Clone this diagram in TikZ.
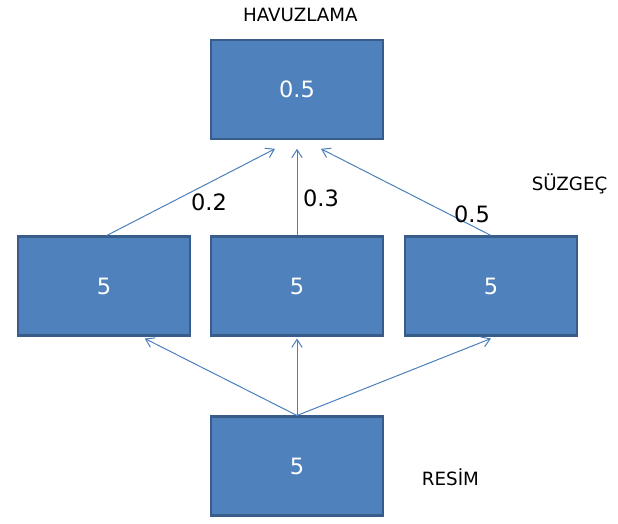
\documentclass[tikz,border=0pt]{standalone}
\usepackage{fontspec}
\setmainfont{DejaVu Sans}
\usepackage{tikz}
\usetikzlibrary{arrows.meta, positioning}
\definecolor{myblue}{RGB}{79,129,189}
\definecolor{mydarkblue}{RGB}{56,93,138}
\definecolor{mylink}{RGB}{74,126,187}
\tikzset{
  cell/.style={rectangle, draw=mydarkblue, fill=myblue,
    minimum width=4.3cm, minimum height=2.47cm,
    font=\fontsize{16}{18}\selectfont, text=white, line width=1.6pt},
  link/.style={-{Straight Barb[length=2mm, width=2.6mm]}, line width=0.7pt, color=mylink},
  weight/.style={font=\fontsize{16}{18}\selectfont, text=black},
  caption/.style={font=\fontsize{13}{15}\selectfont, text=black}
}

\begin{document}
\begin{tikzpicture}
  \useasboundingbox (0,0) rectangle (15.45,-13.075);

  % pooling box on top
  \node[cell] (pool) at (7.425,-2.2375) {0.5};
  \node[caption] (poollbl) at (7.51,-0.375) {HAVUZLAMA};

  % filter row
  \node[cell] (fl) at ( 2.6  ,-7.15) {5};
  \node[cell] (fc) at ( 7.425,-7.15) {5};
  \node[cell] (fr) at (12.275,-7.15) {5};
  \node[caption] (filterlbl) at (14.24,-4.6) {SÜZGEÇ};

  % input image
  \node[cell] (img) at (7.425,-11.65) {5};
  \node[caption] (imglbl) at (11.26,-11.92) {RESİM};

  % filters to pooling
  \draw[link] ([xshift=0.07cm]fl.north) -- ([xshift=-0.55cm,yshift=-0.22cm]pool.south);
  \draw[link] (fc.north) -- ([yshift=-0.22cm]pool.south);
  \draw[link] (fr.north) -- ([xshift=0.6cm,yshift=-0.22cm]pool.south);

  % weights
  \node[weight] (w1) at (5.225,-5.05) {0.2};
  \node[weight] (w2) at (8.025,-4.95) {0.3};
  \node[weight] (w3) at (11.8,-5.35) {0.5};

  % image to filters
  \draw[link] (img.north) -- ([xshift=1.02cm,yshift=-0.05cm]fl.south);
  \draw[link] (img.north) -- ([yshift=-0.05cm]fc.south);
  \draw[link] (img.north) -- ([yshift=-0.05cm]fr.south);
\end{tikzpicture}
\end{document}
